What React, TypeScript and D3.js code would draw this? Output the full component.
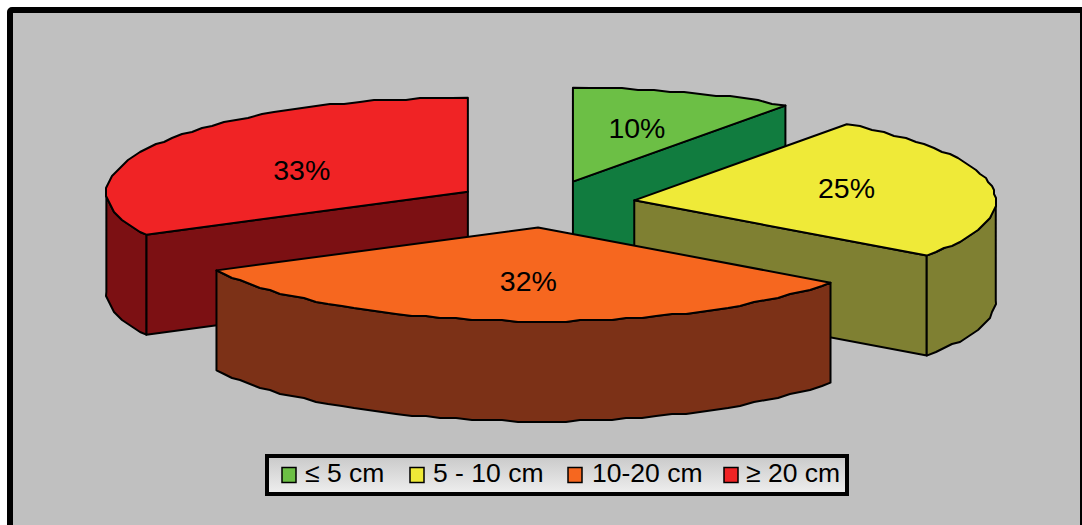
import React from "react";
import * as d3 from "d3";

// Share of tumours per size class
const categories = ["≤ 5 cm", "5 - 10 cm", "10-20 cm", "≥ 20 cm"];
const shares = [10, 25, 32.45, 32.55];
const topColors = ["#6CBF45", "#EFEA38", "#F6671F", "#F02325"];
const sideColors = ["#117C3F", "#7F8032", "#7C3117", "#7C1013"];

const WIDTH = 1082;
const HEIGHT = 525;
const FONT = "'Liberation Sans', Arial, sans-serif";

// Tilted pie geometry
const CX = 545;
const CY = 204;
const RX = 361.5;
const RY = 94;
const DEPTH = 100;
const EXPLODE = 0.25;
const GRID = 2; // coarse vertex grid gives the arcs their stepped outline

// Draw order: back slices first, the front slice last
const paintOrder = [3, 0, 1, 2];
// Fine adjustment of each percentage label against its mid-radius spot
const labelNudge: [number, number][] = [
  [-3, 0],
  [-2, -4],
  [7, -3],
  [19, 8],
];
const legendSwatchX = [282, 410, 568, 724];
const legendTextX = [305, 433, 592, 746];

const onEllipse = (a: number, f = 1): [number, number] => [
  RX * f * Math.sin(a),
  -RY * f * Math.cos(a),
];

const line = d3.line<[number, number]>();

const snap = (v: number) => Math.round(v / GRID) * GRID;

function arcPoints(a0: number, a1: number, ox: number, oy: number): [number, number][] {
  const n = Math.max(2, Math.round(Math.abs(a1 - a0) / (Math.PI / 72)));
  const angles = d3.range(n + 1).map((i) => a0 + ((a1 - a0) * i) / n);
  return angles.map((a, i) => {
    const [x, y] = onEllipse(a);
    const edge = i === 0 || i === n;
    return edge ? [ox + x, oy + y] : [snap(ox + x), snap(oy + y)];
  });
}

export default function App() {
  const arcs = d3.pie<number>().sort(null).startAngle(0).endAngle(2 * Math.PI)(shares);

  const slices = arcs.map((arc, i) => {
    const { startAngle: a0, endAngle: a1 } = arc;
    const mid = (a0 + a1) / 2;
    const [ex, ey] = onEllipse(mid, EXPLODE);
    const ox = CX + ex;
    const oy = CY + ey;
    const rim = arcPoints(a0, a1, ox, oy);
    const top = line([[ox, oy], ...rim]) + "Z";

    // Radial cut faces that turn toward the viewer
    const walls: string[] = [];
    const wall = (a: number) => {
      const [x, y] = onEllipse(a);
      return (
        line([
          [ox, oy],
          [ox + x, oy + y],
          [ox + x, oy + y + DEPTH],
          [ox, oy + DEPTH],
        ]) + "Z"
      );
    };
    if (Math.sin(a0) < -1e-6) walls.push(wall(a0));
    if (Math.sin(a1) > 1e-6) walls.push(wall(a1));

    // Outer rim wall, front half of the ellipse only
    const s0 = Math.max(a0, Math.PI / 2);
    const s1 = Math.min(a1, (3 * Math.PI) / 2);
    let rimWall: string | null = null;
    if (s1 > s0) {
      const upper = arcPoints(s0, s1, ox, oy);
      const lower = upper.map(([x, y]) => [x, y + DEPTH] as [number, number]).reverse();
      rimWall = line([...upper, ...lower]) + "Z";
    }

    const [lx, ly] = onEllipse(mid, 0.6);
    return {
      i,
      top,
      walls,
      rimWall,
      labelX: ox + lx + labelNudge[i][0],
      labelY: oy + ly + labelNudge[i][1],
    };
  });

  return (
    <svg
      width={WIDTH}
      height={HEIGHT}
      viewBox={`0 0 ${WIDTH} ${HEIGHT}`}
      style={{ position: "absolute", left: 0, top: 0, fontFamily: FONT }}
    >
      <defs>
        <linearGradient id="legendFill" x1="0" y1="0" x2="0" y2="1">
          <stop offset="0" stopColor="#C9C9C9" />
          <stop offset="1" stopColor="#EFEFEF" />
        </linearGradient>
      </defs>

      <rect
        x={10}
        y={10}
        width={1073}
        height={540}
        rx={2}
        fill="#C0C0C0"
        stroke="#000"
        strokeWidth={6}
      />

      {paintOrder.map((idx) => {
        const s = slices[idx];
        return (
          <g key={categories[idx]} stroke="#000" strokeWidth={2} strokeLinejoin="round">
            {s.walls.map((d, j) => (
              <path key={j} d={d} fill={sideColors[idx]} />
            ))}
            {s.rimWall && <path d={s.rimWall} fill={sideColors[idx]} />}
            <path d={s.top} fill={topColors[idx]} />
          </g>
        );
      })}

      {slices.map((s) => (
        <text
          key={s.i}
          x={s.labelX}
          y={s.labelY}
          fontSize={28.5}
          textAnchor="middle"
          dominantBaseline="central"
          fill="#000"
        >
          {`${Math.round(shares[s.i])}%`}
        </text>
      ))}

      <rect
        x={267}
        y={456}
        width={580}
        height={38}
        fill="url(#legendFill)"
        stroke="#000"
        strokeWidth={4}
      />
      {categories.map((c, i) => (
        <g key={c}>
          <rect
            x={legendSwatchX[i]}
            y={467.5}
            width={14}
            height={15}
            fill={topColors[i]}
            stroke="#000"
            strokeWidth={1.5}
          />
          <text x={legendTextX[i]} y={482} fontSize={26.5} fill="#000">
            {c}
          </text>
        </g>
      ))}
    </svg>
  );
}
